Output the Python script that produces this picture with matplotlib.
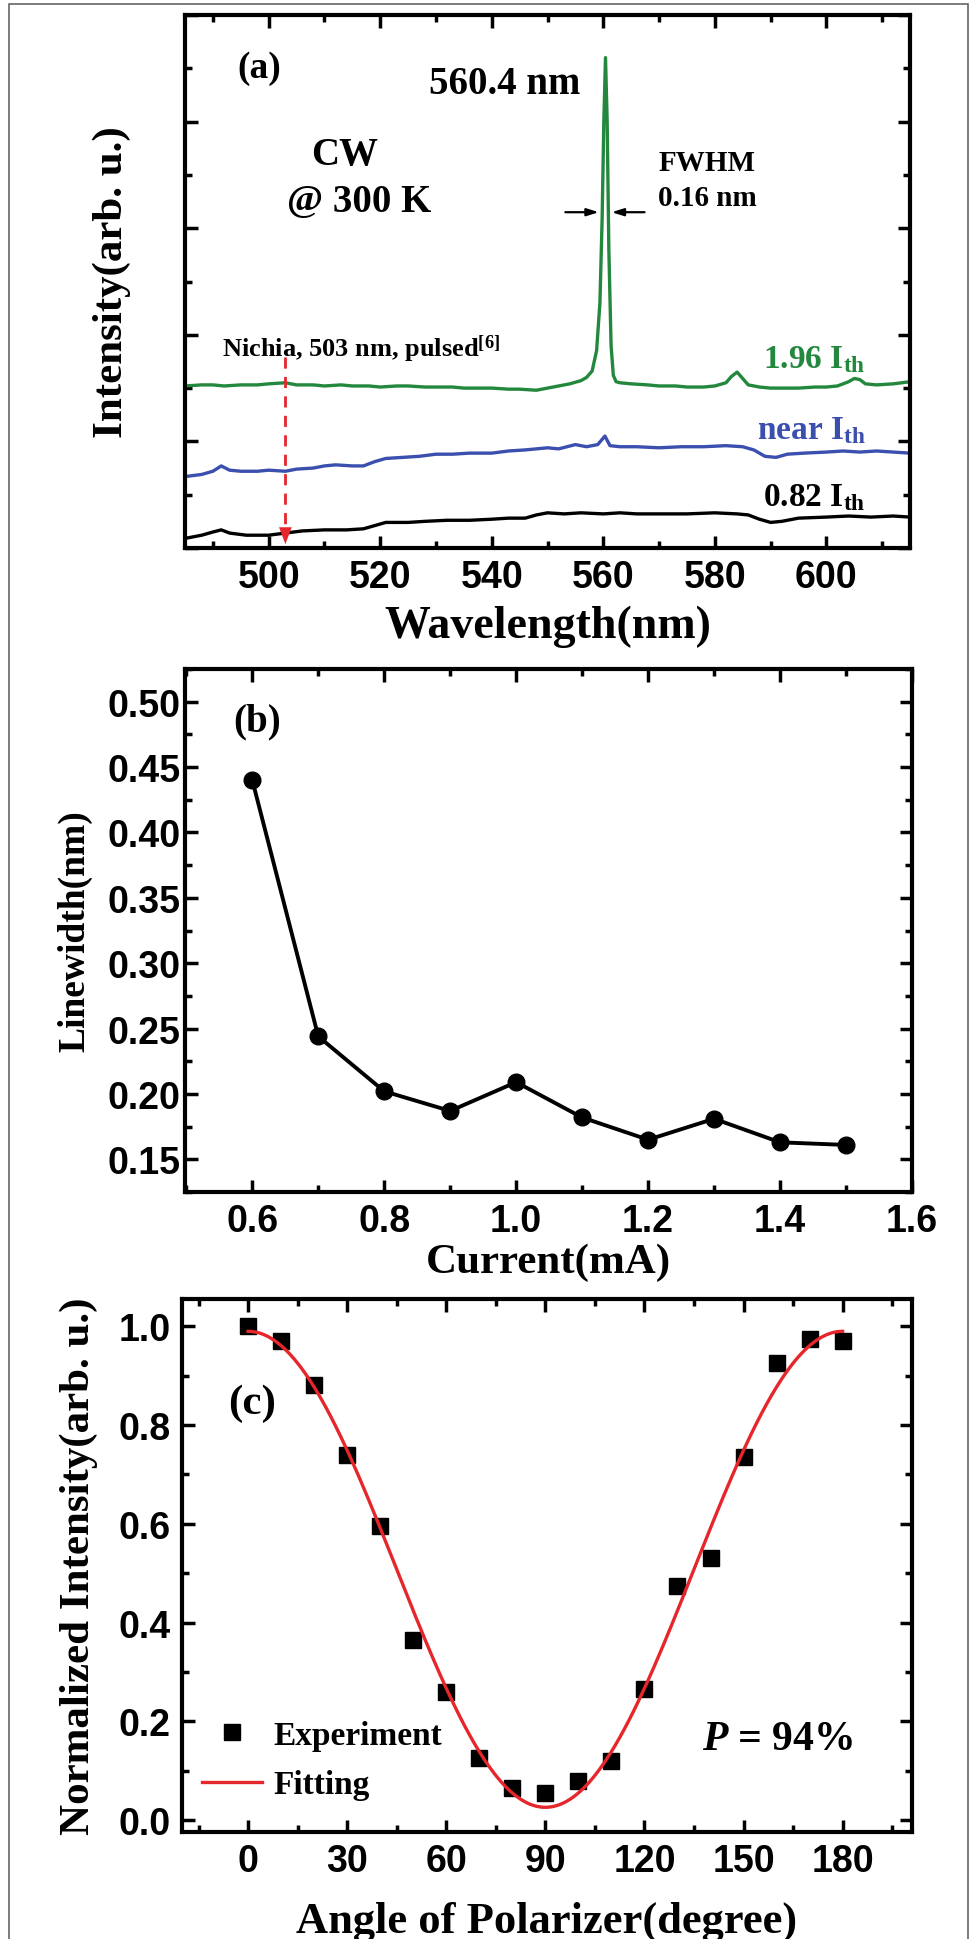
import matplotlib
matplotlib.use("Agg")
import matplotlib.pyplot as plt
from matplotlib.ticker import MultipleLocator, NullFormatter, FormatStrFormatter
from matplotlib.patches import Rectangle
import numpy as np

plt.rcParams['font.family'] = ['Liberation Serif', 'DejaVu Serif']
plt.rcParams['font.weight'] = 'bold'
plt.rcParams['mathtext.fontset'] = 'custom'
plt.rcParams['mathtext.rm'] = 'Liberation Serif:bold'
plt.rcParams['mathtext.bf'] = 'Liberation Serif:bold'
plt.rcParams['mathtext.it'] = 'Liberation Serif:bold:italic'
plt.rcParams['mathtext.bfit'] = 'Liberation Serif:bold:italic'

# ---- (a) spectra, wavelength in nm, intensity in arb. units
wl_green = [485, 488, 490, 492, 495, 498, 500, 503, 505, 508, 510, 513, 515, 518, 520,
            523, 525, 528, 530, 533, 535, 538, 540, 543, 545, 548, 550, 552, 554, 556,
            557, 558, 558.8, 559.4, 559.8, 560.1, 560.4, 560.7, 561.0, 561.4, 561.8,
            562.3, 563, 565, 568, 570, 573, 575, 578, 580, 582, 583, 584, 585, 586,
            588, 590, 593, 595, 598, 600, 602, 604, 605, 606, 607, 609, 612, 615]
int_green = [1.52, 1.53, 1.53, 1.52, 1.53, 1.53, 1.54, 1.55, 1.53, 1.53, 1.52, 1.53, 1.52, 1.52, 1.51,
             1.52, 1.52, 1.51, 1.51, 1.51, 1.50, 1.50, 1.50, 1.49, 1.49, 1.48, 1.50, 1.52, 1.54, 1.57,
             1.60, 1.66, 1.85, 2.30, 3.10, 4.00, 4.60, 4.00, 2.80, 1.90, 1.62,
             1.56, 1.55, 1.54, 1.53, 1.52, 1.52, 1.51, 1.51, 1.52, 1.55, 1.61, 1.65, 1.59, 1.53,
             1.51, 1.50, 1.50, 1.50, 1.51, 1.51, 1.52, 1.56, 1.59, 1.58, 1.54, 1.53, 1.54, 1.56]

wl_blue = [485, 488, 490, 491.5, 493, 495, 498, 500, 503, 505, 508, 510, 512, 515, 517,
           519, 521, 524, 527, 530, 533, 536, 540, 543, 546, 550, 552, 555, 557, 559,
           560.3, 561.2, 563, 566, 570, 574, 578, 582, 585, 587, 589, 591, 593, 596,
           600, 603, 606, 609, 612, 615]
int_blue = [0.67, 0.69, 0.72, 0.77, 0.73, 0.72, 0.72, 0.73, 0.72, 0.74, 0.75, 0.77, 0.78, 0.77, 0.77,
            0.81, 0.84, 0.85, 0.86, 0.88, 0.88, 0.89, 0.89, 0.91, 0.92, 0.94, 0.93, 0.97, 0.95, 0.97,
            1.05, 0.96, 0.95, 0.95, 0.94, 0.95, 0.95, 0.96, 0.95, 0.92, 0.86, 0.85, 0.88, 0.89,
            0.90, 0.91, 0.90, 0.91, 0.90, 0.89]

wl_black = [485, 488, 490, 491.5, 493, 496, 500, 503, 506, 510, 514, 517, 519, 521, 525,
            528, 532, 536, 540, 543, 546, 548, 550, 553, 556, 560, 563, 566, 570, 575,
            580, 584, 586, 588, 590, 592, 595, 600, 604, 608, 612, 615]
int_black = [0.09, 0.12, 0.15, 0.17, 0.14, 0.12, 0.12, 0.14, 0.16, 0.17, 0.17, 0.18, 0.21, 0.24, 0.24,
             0.25, 0.26, 0.26, 0.27, 0.28, 0.28, 0.31, 0.33, 0.32, 0.33, 0.32, 0.33, 0.32, 0.32, 0.32,
             0.33, 0.32, 0.31, 0.27, 0.24, 0.25, 0.28, 0.29, 0.30, 0.29, 0.30, 0.29]

nichia_wl = 503
fwhm_level = 3.15

# ---- (b) linewidth vs current
current = [0.6, 0.7, 0.8, 0.9, 1.0, 1.1, 1.2, 1.3, 1.4, 1.5]
linewidth = [0.440, 0.244, 0.202, 0.187, 0.209, 0.182, 0.165, 0.181, 0.163, 0.161]

# ---- (c) polarization
angle = [0, 10, 20, 30, 40, 50, 60, 70, 80, 90, 100, 110, 120, 130, 140, 150, 160, 170, 180]
norm_int = [1.00, 0.97, 0.88, 0.74, 0.595, 0.365, 0.26, 0.125, 0.065, 0.055,
            0.08, 0.12, 0.265, 0.475, 0.53, 0.735, 0.925, 0.975, 0.97]

GREEN = '#23883d'
BLUE = '#3b4fae'
RED = '#e5262b'


def style_axes(ax):
    for s in ax.spines.values():
        s.set_linewidth(3)
    ax.tick_params(which='both', direction='in', top=True, right=True, width=2.5,
                   labelsize=27, labelfontfamily='Liberation Sans')
    ax.tick_params(which='major', length=9, pad=8)
    ax.tick_params(which='minor', length=5)


fig = plt.figure(figsize=(9.76, 19.4), dpi=100)
W, H = 976, 1940


def add_ax(left, top, right, bottom):
    return fig.add_axes([left / W, 1 - bottom / H, (right - left) / W, (bottom - top) / H])


# ================= (a)
ax1 = add_ax(185, 16, 910, 549)
ax1.plot(wl_black, int_black, color='black', lw=2.4)
ax1.plot(wl_blue, int_blue, color=BLUE, lw=2.4)
ax1.plot(wl_green, int_green, color=GREEN, lw=2.4)
ax1.set_xlim(485, 615)
ax1.set_ylim(0, 5)
ax1.xaxis.set_major_locator(MultipleLocator(20))
ax1.xaxis.set_minor_locator(MultipleLocator(10))
ax1.yaxis.set_major_locator(MultipleLocator(1))
ax1.yaxis.set_minor_locator(MultipleLocator(0.5))
ax1.yaxis.set_major_formatter(NullFormatter())
style_axes(ax1)
ax1.set_xlabel('Wavelength(nm)', fontsize=33, fontweight='bold', va='center')
ax1.xaxis.set_label_coords(0.5, -0.146)
ax1.set_ylabel('Intensity(arb. u.)', fontsize=31, fontweight='bold', va='center')
ax1.yaxis.set_label_coords(-0.101, 0.5)

# Nichia reference arrow
ax1.plot([nichia_wl, nichia_wl], [1.79, 0.15], ls=(0, (4, 3)), color=RED, lw=2)
ax1.annotate('', xy=(nichia_wl, 0.01), xytext=(nichia_wl, 0.2),
             arrowprops=dict(arrowstyle='-|>,head_length=1.2,head_width=0.45', color=RED, lw=0.1))
ax1.text(491.7, 1.88, r'Nichia, 503 nm, pulsed$^{\mathbf{[6]}}$', fontsize=19, ha='left', va='center')

# FWHM arrows
ax1.annotate('', xy=(559.7, fwhm_level), xytext=(552.7, fwhm_level),
             arrowprops=dict(arrowstyle='-|>,head_length=0.7,head_width=0.22', color='black', lw=1.6))
ax1.annotate('', xy=(561.0, fwhm_level), xytext=(567.9, fwhm_level),
             arrowprops=dict(arrowstyle='-|>,head_length=0.7,head_width=0.22', color='black', lw=1.6))
ax1.text(569.9, 3.62, 'FWHM', fontsize=21, ha='left', va='center')
ax1.text(569.9, 3.29, '0.16 nm', fontsize=21, ha='left', va='center')

ax1.text(498.3, 4.51, '(a)', fontsize=27, ha='center', va='center')
ax1.text(542.4, 4.36, '560.4 nm', fontsize=28, ha='center', va='center')
ax1.text(513.7, 3.69, 'CW', fontsize=28, ha='center', va='center')
ax1.text(516.3, 3.25, '@ 300 K', fontsize=28, ha='center', va='center')

ax1.text(607.0, 1.78, r'1.96 I$_{\mathbf{th}}$', fontsize=24, color=GREEN, ha='right', va='center')
ax1.text(607.0, 1.11, r'near I$_{\mathbf{th}}$', fontsize=24, color=BLUE, ha='right', va='center')
ax1.text(607.0, 0.48, r'0.82 I$_{\mathbf{th}}$', fontsize=24, color='black', ha='right', va='center')

# ================= (b)
ax2 = add_ax(185, 670, 912, 1193)
ax2.plot(current, linewidth, color='black', lw=2.8, marker='o', ms=12)
ax2.set_xlim(0.498, 1.6)
ax2.set_ylim(0.125, 0.525)
ax2.xaxis.set_major_locator(MultipleLocator(0.2))
ax2.xaxis.set_minor_locator(MultipleLocator(0.1))
ax2.yaxis.set_major_locator(MultipleLocator(0.05))
ax2.yaxis.set_minor_locator(MultipleLocator(0.025))
ax2.xaxis.set_major_formatter(FormatStrFormatter('%.1f'))
ax2.yaxis.set_major_formatter(FormatStrFormatter('%.2f'))
style_axes(ax2)
ax2.tick_params(axis='y', which='major', pad=3)
ax2.set_xlabel('Current(mA)', fontsize=31, fontweight='bold', va='center')
ax2.xaxis.set_label_coords(0.5, -0.134)
ax2.set_ylabel('Linewidth(nm)', fontsize=27, fontweight='bold', va='center')
ax2.yaxis.set_label_coords(-0.151, 0.5)
ax2.text(0.608, 0.485, '(b)', fontsize=28, ha='center', va='center')

# ================= (c)
ax3 = add_ax(182, 1300, 912, 1833)
# least-squares Malus-law fit of the measured points
th = np.radians(angle)
A = np.column_stack([np.cos(th) ** 2, np.ones_like(th)])
coef, *_ = np.linalg.lstsq(A, np.array(norm_int), rcond=None)
ang_fit = np.linspace(0, 180, 361)
fit = coef[0] * np.cos(np.radians(ang_fit)) ** 2 + coef[1]

ax3.plot(ang_fit, fit, color=RED, lw=2.4, label='Fitting', zorder=3)
ax3.plot(angle, norm_int, ls='none', marker='s', ms=11, color='black', label='Experiment', zorder=2)
ax3.set_xlim(-20, 201)
ax3.set_ylim(-0.024, 1.055)
ax3.xaxis.set_major_locator(MultipleLocator(30))
ax3.xaxis.set_minor_locator(MultipleLocator(15))
ax3.yaxis.set_major_locator(MultipleLocator(0.2))
ax3.yaxis.set_minor_locator(MultipleLocator(0.1))
ax3.yaxis.set_major_formatter(FormatStrFormatter('%.1f'))
style_axes(ax3)
ax3.set_xlabel('Angle of Polarizer(degree)', fontsize=32, fontweight='bold', va='center')
ax3.xaxis.set_label_coords(0.5, -0.167)
ax3.set_ylabel('Normalized Intensity(arb. u.)', fontsize=31, fontweight='bold', va='center')
ax3.yaxis.set_label_coords(-0.142, 0.5)
ax3.text(1.2, 0.844, '(c)', fontsize=31, ha='center', va='center')
ax3.text(160.3, 0.164, r'$\mathbfit{P}$ = 94%', fontsize=30, ha='center', va='center')

h, l = ax3.get_legend_handles_labels()
ax3.legend(h[::-1], l[::-1], loc='center left', bbox_to_anchor=(0.027, 0.135), frameon=False,
           fontsize=24, numpoints=1, handlelength=1.8, handletextpad=0.35,
           labelspacing=0.55, borderpad=0, borderaxespad=0)

# outer frame
fig.patches.append(Rectangle((9 / W, -0.01), (968 - 9) / W, 1.01 - 5 / H, transform=fig.transFigure,
                             fill=False, edgecolor='#666666', lw=1.2))

fig.savefig('out.png', dpi=100)
